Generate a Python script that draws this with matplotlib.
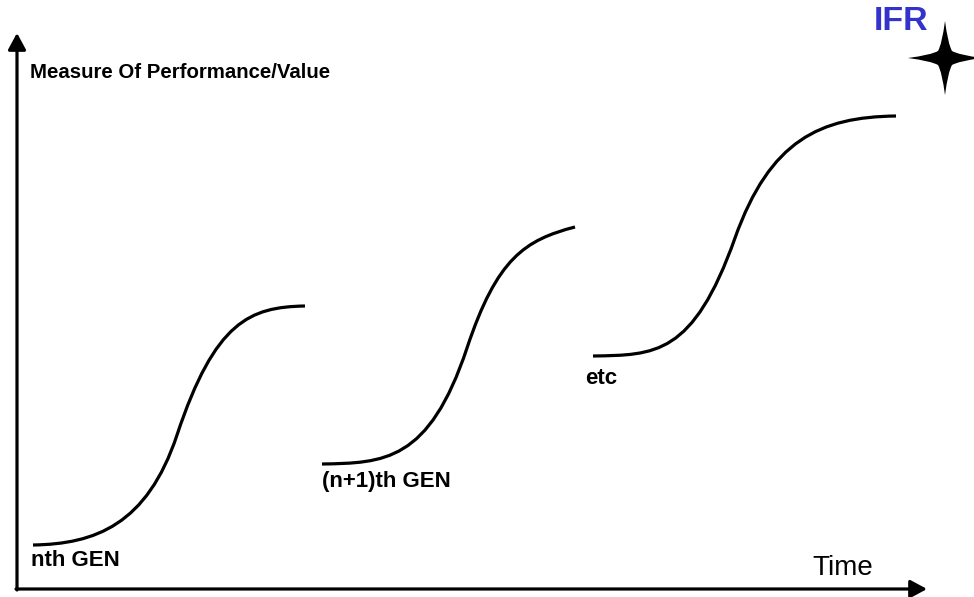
import matplotlib
matplotlib.use("Agg")
import matplotlib.pyplot as plt
from matplotlib.path import Path
from matplotlib.patches import PathPatch

plt.rcParams['font.family'] = ['Liberation Sans', 'DejaVu Sans']

# Canvas units follow the picture (x to the right, y downward)
W, H = 974, 597

# S-curves: cubic Bezier control points (start, c1, c2, inflection, c3, c4, end)
gen1_x = [33, 95, 147, 177, 215, 250, 305]
gen1_y = [545, 544, 525, 435, 321, 307, 306]
gen2_x = [322, 384, 429, 467, 497, 525, 575]
gen2_y = [464, 463, 462, 348, 258, 240, 227]
gen3_x = [593, 655, 693, 735, 770, 820, 896]
gen3_y = [356, 355, 356, 238, 140, 117, 116]

curve_labels = ["nth GEN", "(n+1)th GEN", "etc"]
label_x = [31, 322, 585]
label_y = [561, 481, 378]

y_title = "Measure Of Performance/Value"
x_title = "Time"
logo_text = "IFR"

fig = plt.figure(figsize=(W / 100, H / 100), dpi=100)
ax = fig.add_axes([0, 0, 1, 1])
ax.set_xlim(0, W)
ax.set_ylim(H, 0)
ax.axis('off')

codes = [Path.MOVETO] + [Path.CURVE4] * 6
for xs, ys in [(gen1_x, gen1_y), (gen2_x, gen2_y), (gen3_x, gen3_y)]:
    p = Path(list(zip(xs, ys)), codes)
    ax.add_patch(PathPatch(p, facecolor='none', edgecolor='black', lw=2.3,
                           capstyle='butt'))

# Axes with arrows (each a single arrow from the origin)
ox, oy = 17, 589
astyle = '-|>,head_length=0.5,head_width=0.27'
ax.annotate('', xy=(ox, 33), xytext=(ox, oy + 1),
            arrowprops=dict(arrowstyle=astyle, color='black', lw=2.3,
                            mutation_scale=20, shrinkA=0, shrinkB=0))
ax.annotate('', xy=(927, oy), xytext=(ox - 1, oy),
            arrowprops=dict(arrowstyle=astyle, color='black', lw=2.3,
                            mutation_scale=20, shrinkA=0, shrinkB=0))

# Texts
ax.text(30, 73, y_title, fontsize=14.7, fontweight='bold', va='center',
        ha='left')
ax.text(812, 568, x_title, fontsize=20, va='center', ha='left')
for t, x, y in zip(curve_labels, label_x, label_y):
    ax.text(x, y, t, fontsize=16, fontweight='bold', va='center', ha='left')

ax.text(874, 22, logo_text, fontsize=24.5, fontweight='bold', color='#3333CC',
        va='center', ha='left')

# Four-pointed star
cx, cy = 945, 58
r = 37
k = 7
c = 14
star_pts = [(cx, cy - r)]
star_codes = [Path.MOVETO]
dirs = [(0, -1), (1, 0), (0, 1), (-1, 0)]
for i in range(4):
    dx, dy = dirs[i]
    nx, ny = dirs[(i + 1) % 4]
    inner = (cx + (dx + nx) * k, cy + (dy + ny) * k)
    ctrl1 = (cx + dx * c + nx * 3, cy + dy * c + ny * 3)
    ctrl2 = (cx + nx * c + dx * 3, cy + ny * c + dy * 3)
    tip = (cx + nx * r, cy + ny * r)
    star_pts += [ctrl1, inner, ctrl2, tip]
    star_codes += [Path.CURVE3, Path.CURVE3, Path.CURVE3, Path.CURVE3]
star_pts.append((cx, cy - r))
star_codes.append(Path.CLOSEPOLY)
ax.add_patch(PathPatch(Path(star_pts, star_codes), facecolor='black',
                       edgecolor='none'))

fig.savefig('out.png', dpi=100)
